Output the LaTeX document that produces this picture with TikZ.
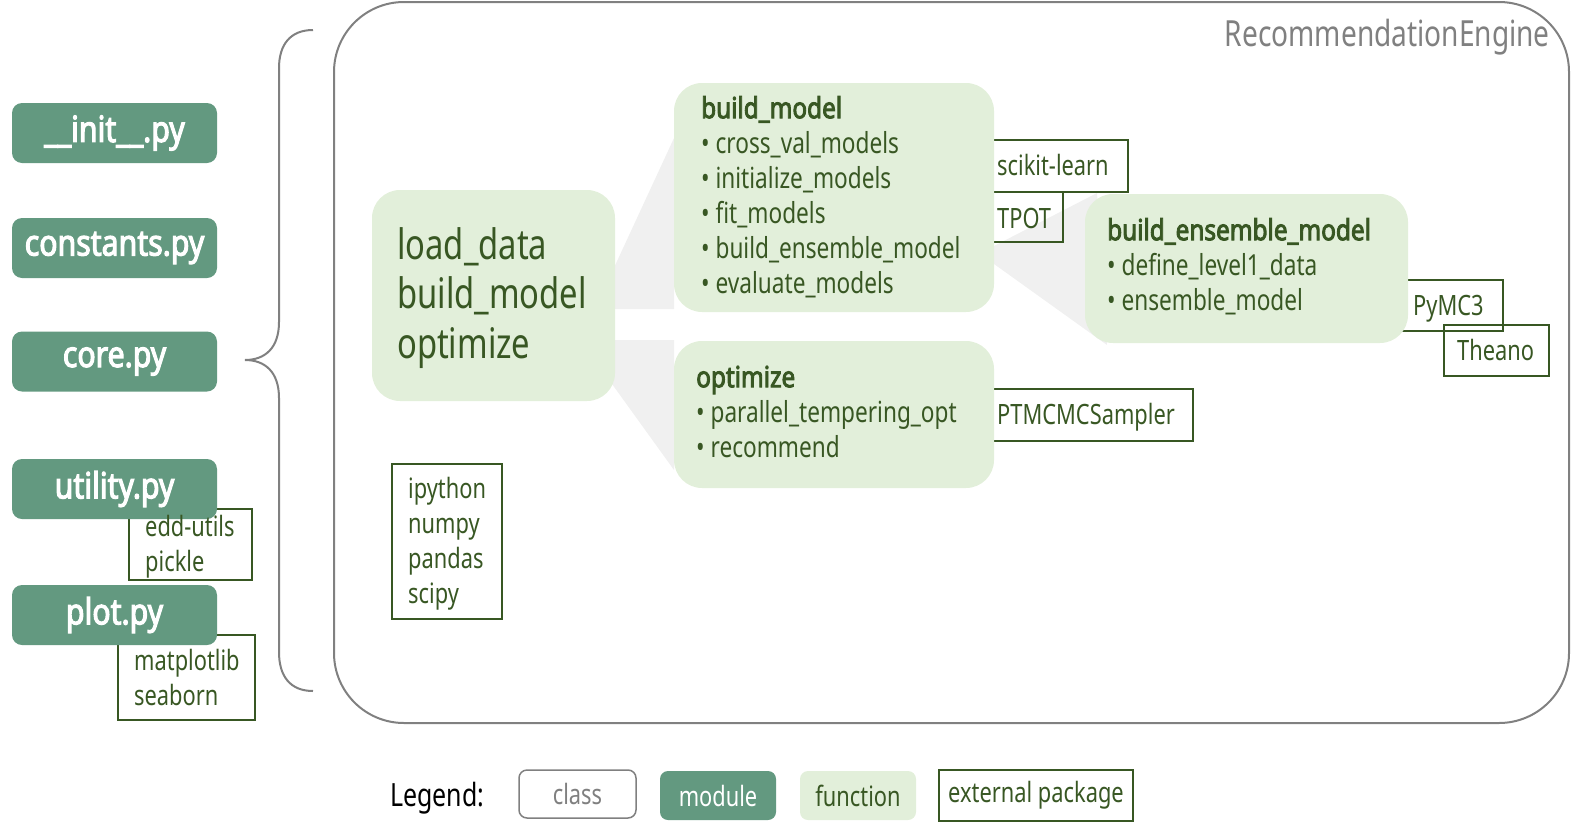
\documentclass[tikz,border=0pt]{standalone}
\usepackage{fontspec}
\setmainfont{Noto Sans}[FakeStretch=0.78, BoldFont={Noto Sans}, BoldFeatures={FakeBold=3}]
\newfontfamily\boldfam{Noto Sans}[FakeStretch=0.84, FakeBold=3]
\definecolor{modc}{RGB}{99,153,128}
\definecolor{fnc}{RGB}{226,239,218}
\definecolor{txtg}{RGB}{56,87,35}
\definecolor{wedgec}{RGB}{240,240,240}
\definecolor{clsc}{RGB}{128,128,128}
\tikzset{
  modbox/.style={fill=modc, rounded corners=10pt, inner sep=0pt, text=white, font=\boldfam\fontsize{36}{40}\selectfont, minimum width=205pt, minimum height=60pt},
  fnbox/.style={fill=fnc, rounded corners=28pt, inner sep=0pt},
  pkgbox/.style={draw=txtg, line width=1.5pt, inner sep=0pt},
  fntext/.style={text=txtg, inner sep=0pt, align=left, anchor=north west, font=\fontsize{29}{35}\selectfont},
  pkgtext/.style={text=txtg, inner sep=0pt, align=left, font=\fontsize{28}{35}\selectfont},
  wedgefill/.style={fill=wedgec},
  legtext/.style={font=\fontsize{28}{32}\selectfont, inner sep=0pt}
}
\begin{document}
\begin{tikzpicture}[x=1pt,y=-1pt]
\useasboundingbox (0,0) rectangle (1581,835);
% class container
\node[draw=clsc, line width=2pt, rounded corners=70pt, minimum width=1235pt, minimum height=721pt, inner sep=0pt] (cls) at (951.5,362.5) {};
\node[anchor=base east, text=clsc, font=\fontsize{36}{40}\selectfont, inner sep=0pt] (clsname) at (1550,46) {RecommendationEngine};
% brace
\draw[clsc, line width=2pt] (313,30) .. controls (290,30) and (279,45) .. (279,68) -- (279,322) .. controls (279,348) and (265,360) .. (245,360) .. controls (265,360) and (279,372) .. (279,398) -- (279,652) .. controls (279,676) and (290,691) .. (313,691);
% wedges
\fill[wedgefill] (612,272) -- (674,138) -- (674,309) -- (612,309) -- cycle;
\fill[wedgefill] (612,340) -- (674,340) -- (674,470) -- (612,384) -- cycle;
\fill[wedgefill] (994,246) -- (1097,193) -- (1107,345) -- (994,264) -- cycle;
% external packages
\node[pkgbox, minimum width=123pt, minimum height=71pt] (edd) at (190.5,544.5) {};
\node[pkgbox, minimum width=137pt, minimum height=85pt] (mpl) at (186.5,677.5) {};
\node[pkgbox, minimum width=110pt, minimum height=155pt] (ipy) at (447,541.5) {};
\node[pkgbox, minimum width=148pt, minimum height=52pt] (sk) at (1054,166) {};
\node[pkgbox, minimum width=83pt, minimum height=50pt] (tpot) at (1021.5,217) {};
\node[pkgbox, minimum width=108pt, minimum height=51pt] (pymc) at (1449,305.5) {};
\node[pkgbox, minimum width=105pt, minimum height=51pt] (theano) at (1496.5,350.5) {};
\node[pkgbox, minimum width=213pt, minimum height=52pt] (ptm) at (1086.5,415) {};
% function boxes
\node[fnbox, minimum width=243pt, minimum height=211pt] (ld) at (493.5,295.5) {};
\node[fnbox, minimum width=320pt, minimum height=229pt] (bm) at (834,197.5) {};
\node[fnbox, minimum width=320pt, minimum height=147pt] (opt) at (834,414.5) {};
\node[fnbox, minimum width=323pt, minimum height=149pt] (be) at (1246.5,268.5) {};
% modules
\node[modbox] (init) at (114.5,133) {\_\_init\_\_.py};
\node[modbox] (const) at (114.5,248) {constants.py};
\node[modbox] (core) at (114.5,361.5) {core.py};
\node[modbox] (util) at (114.5,489) {utility.py};
\node[modbox] (plot) at (114.5,615) {plot.py};
% function texts
\node[fntext, font=\fontsize{42}{49.5}\selectfont] (ldt) at (397,224.4) {\strut load\_data\\build\_model\\optimize};
\node[fntext] (bmt) at (701,93.5) {\strut{\boldfam build\_model}\\• cross\_val\_models\\• initialize\_models\\• fit\_models\\• build\_ensemble\_model\\• evaluate\_models};
\node[fntext] (optt) at (696,362.5) {\strut{\boldfam optimize}\\• parallel\_tempering\_opt\\• recommend};
\node[fntext] (bet) at (1107,215.5) {\strut{\boldfam build\_ensemble\_model}\\• define\_level1\_data\\• ensemble\_model};
% package texts
\node[pkgtext, anchor=north west] (eddt) at (145,511.5) {\strut edd-utils\\pickle};
\node[pkgtext, anchor=north west] (mplt) at (134,645.5) {\strut matplotlib\\seaborn};
\node[pkgtext, anchor=north west] (ipyt) at (408,473.5) {\strut ipython\\numpy\\pandas\\scipy};
\node[pkgtext, anchor=base west] (skt) at (997,175) {scikit-learn};
\node[pkgtext, anchor=base west] (tpott) at (997,228) {TPOT};
\node[pkgtext, anchor=base west] (pymct) at (1413,315) {PyMC3};
\node[pkgtext, anchor=base west] (theanot) at (1457,360) {Theano};
\node[pkgtext, anchor=base west] (ptmt) at (997,424) {PTMCMCSampler};
% legend
\node[anchor=base west, font=\fontsize{32}{36}\selectfont, inner sep=0pt] (legend) at (390,806) {Legend:};
\node[legtext, draw=clsc, line width=1.5pt, rounded corners=8pt, minimum width=117pt, minimum height=48pt, text=clsc] (lgclass) at (577.5,794) {class};
\node[legtext, fill=modc, rounded corners=8pt, minimum width=116pt, minimum height=49pt, text=white] (lgmod) at (718,795.5) {module};
\node[legtext, fill=fnc, rounded corners=8pt, minimum width=116pt, minimum height=49pt, text=txtg] (lgfn) at (858,795.5) {function};
\node[legtext, pkgbox, minimum width=194pt, minimum height=51pt, text=txtg] (lgpkg) at (1036,795.5) {external package};
\end{tikzpicture}
\end{document}
